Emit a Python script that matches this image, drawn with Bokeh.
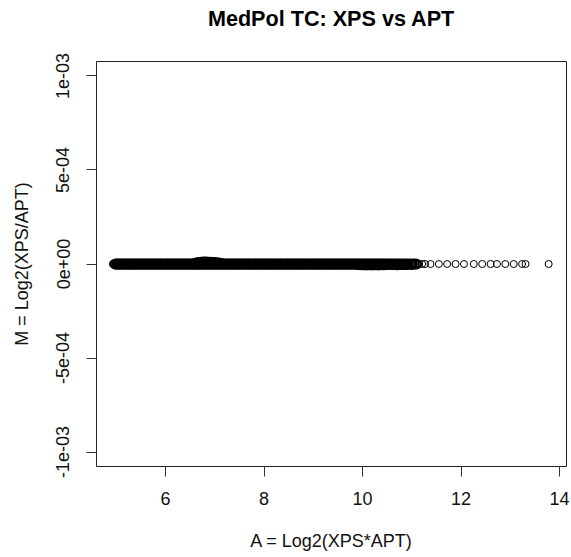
from bokeh.plotting import figure
from bokeh.models import FixedTicker, Range1d, LinearAxis, Title
from bokeh.embed import file_html
from bokeh.resources import INLINE

# ---- data ----
title_text = "MedPol TC: XPS vs APT"
x_label = "A = Log2(XPS*APT)"
y_label = "M = Log2(XPS/APT)"

x_ticks = [6, 8, 10, 12, 14]
y_ticks = [-1e-3, -5e-4, 0.0, 5e-4, 1e-3]
y_tick_labels = ["-1e-03", "-5e-04", "0e+00", "5e-04", "1e-03"]

# dense band, M = 0
band_a_5 = [4.98, 5.01, 5.03, 5.06, 5.09, 5.12, 5.14, 5.17, 5.20, 5.23, 5.25,
            5.28, 5.31, 5.34, 5.36, 5.39, 5.42, 5.45, 5.47, 5.50, 5.53, 5.56, 5.58,
            5.61, 5.64, 5.67, 5.69, 5.72, 5.75, 5.78, 5.80, 5.83, 5.86, 5.89, 5.91,
            5.94, 5.97, 6.00]
band_a_6 = [6.03, 6.05, 6.08, 6.11, 6.14, 6.16, 6.19, 6.22, 6.25, 6.27, 6.30, 6.33,
            6.36, 6.38, 6.41, 6.44, 6.47, 6.49, 6.52, 6.55, 6.58, 6.60, 6.63, 6.66,
            6.69, 6.71, 6.74, 6.77, 6.80, 6.82, 6.85, 6.88, 6.91, 6.93, 6.96, 6.99]
band_a_7 = [7.02, 7.04, 7.07, 7.10, 7.13, 7.15, 7.18, 7.21, 7.24, 7.26, 7.29, 7.32,
            7.35, 7.37, 7.40, 7.43, 7.46, 7.48, 7.51, 7.54, 7.57, 7.59, 7.62, 7.65,
            7.68, 7.70, 7.73, 7.76, 7.79, 7.81, 7.84, 7.87, 7.90, 7.92, 7.95, 7.98]
band_a_8 = [8.01, 8.03, 8.06, 8.09, 8.12, 8.14, 8.17, 8.20, 8.23, 8.25, 8.28, 8.31,
            8.34, 8.36, 8.39, 8.42, 8.45, 8.47, 8.50, 8.53, 8.56, 8.58, 8.61, 8.64,
            8.67, 8.69, 8.72, 8.75, 8.78, 8.80, 8.83, 8.86, 8.89, 8.91, 8.94, 8.97]
band_a_9 = [9.00, 9.02, 9.05, 9.08, 9.11, 9.13, 9.16, 9.19, 9.22, 9.24, 9.27, 9.30,
            9.33, 9.35, 9.38, 9.41, 9.44, 9.46, 9.49, 9.52, 9.55, 9.57, 9.60, 9.63,
            9.66, 9.68, 9.71, 9.74, 9.77, 9.79, 9.82, 9.85, 9.88, 9.90, 9.93, 9.96, 9.99]
band_a_10 = [10.02, 10.05, 10.08, 10.11, 10.14, 10.17, 10.20, 10.23, 10.26, 10.29,
             10.32, 10.35, 10.38, 10.41, 10.44, 10.47, 10.50, 10.53, 10.57, 10.60,
             10.64, 10.67, 10.71, 10.74, 10.78, 10.82, 10.85, 10.89, 10.93, 10.97,
             11.01, 11.05, 11.09]

# points slightly above zero (bump near A ~ 6.6-7.1)
upper_a = [6.60, 6.64, 6.68, 6.72, 6.76, 6.80, 6.84, 6.88, 6.92, 6.96, 7.00, 7.04, 7.08, 7.12]
upper_m = [4e-6, 6e-6, 8e-6, 9e-6, 1.0e-5, 1.0e-5, 1.0e-5, 9e-6, 9e-6, 8e-6, 8e-6, 6e-6, 5e-6, 4e-6]

# points slightly below zero (A ~ 9.9-11.0)
lower_a = [9.90, 9.96, 10.02, 10.08, 10.14, 10.20, 10.26, 10.32, 10.38, 10.44, 10.50,
           10.60, 10.70, 10.80, 10.90, 11.00]
lower_m = [-3e-6, -4e-6, -4e-6, -5e-6, -4e-6, -5e-6, -4e-6, -5e-6, -4e-6, -4e-6, -3e-6,
           -3e-6, -4e-6, -3e-6, -3e-6, -2e-6]

# single rings: band start, thin fringe and sparse tail (M = 0)
ring_a = [4.93, 11.15, 11.21, 11.27, 11.38, 11.55, 11.72, 11.89, 12.06, 12.26, 12.43,
          12.60, 12.73, 12.90, 13.07, 13.24, 13.31, 13.78]
ring_m = [0.0] * len(ring_a)

band_a = band_a_5 + band_a_6 + band_a_7 + band_a_8 + band_a_9 + band_a_10
band_m = [0.0] * len(band_a)

FONT = "Liberation Sans"

# ---- layout (pixels) ----
W, H = 571, 557
FL, FR, FT, FB = 96, 566, 61, 466          # frame edges on the page
x0, x1 = 4.599, 14.142
y0, y1 = -1.077e-3, 1.077e-3

p = figure(width=W, height=H, output_backend="svg", toolbar_location=None,
           x_range=Range1d(x0, x1), y_range=Range1d(y0, y1),
           min_border_left=FL, min_border_right=W - FR,
           min_border_top=FT, min_border_bottom=H - FB)

p.background_fill_color = "white"
p.border_fill_color = "white"
p.outline_line_color = "#222222"
p.outline_line_width = 1
p.xgrid.visible = False
p.ygrid.visible = False

for ax in (p.xaxis[0], p.yaxis[0]):
    ax.axis_line_color = None
    ax.major_tick_out = 10
    ax.major_tick_in = 0
    ax.minor_tick_line_color = None
    ax.major_tick_line_color = "#333333"
    ax.major_label_text_font = FONT
    ax.major_label_text_font_size = "18px"
    ax.major_label_text_color = "#111111"
    ax.axis_label_text_font = FONT
    ax.axis_label_text_font_size = "18px"
    ax.axis_label_text_font_style = "normal"
    ax.axis_label_text_color = "#111111"

p.xaxis.ticker = FixedTicker(ticks=x_ticks)
p.xaxis.major_label_standoff = 15
p.xaxis.axis_label = x_label
p.xaxis.axis_label_standoff = 23

p.yaxis.ticker = FixedTicker(ticks=y_ticks)
p.yaxis.major_label_overrides = {t: l for t, l in zip(y_ticks, y_tick_labels)}
p.yaxis.major_label_orientation = "vertical"
p.yaxis.major_label_standoff = 17
p.yaxis.axis_label = y_label
p.yaxis.axis_label_standoff = 22

# invisible spacer axis above the frame (one hidden tick, no label)
# so that the title sits near the top of the page as in the reference
spacer = LinearAxis(ticker=FixedTicker(ticks=[9]), axis_line_color=None,
                    major_tick_out=31, major_tick_in=0, major_label_standoff=0,
                    major_label_overrides={9: ""}, major_label_text_font_size="1px",
                    major_tick_line_color=None, minor_tick_line_color=None)
p.add_layout(spacer, "above")

p.title = Title(text=title_text, align="center", vertical_align="bottom", standoff=0,
                text_font=FONT, text_font_size="21.6px", text_font_style="bold",
                text_color="black")

dense = dict(marker="circle", size=9, fill_color=None, line_color="black", line_width=2)
light = dict(marker="circle", size=7, fill_color=None, line_color="black", line_width=1)
p.scatter(band_a, band_m, **dense)
p.scatter(upper_a, upper_m, **dense)
p.scatter(lower_a, lower_m, **dense)
p.scatter(ring_a, ring_m, **light)

open("out.html", "w").write(file_html(p, INLINE))
